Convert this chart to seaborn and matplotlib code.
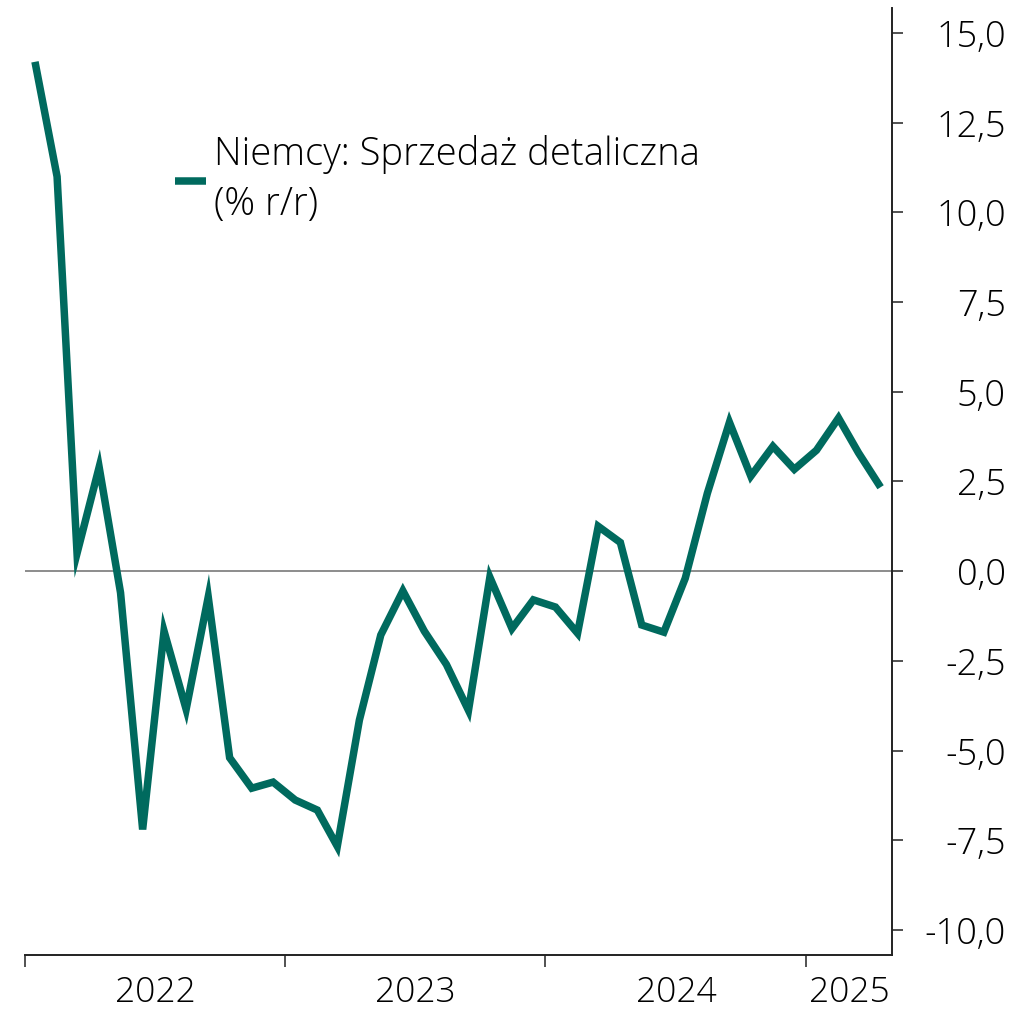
import pandas as pd
import matplotlib
matplotlib.use("Agg")
import matplotlib.pyplot as plt
import matplotlib.dates as mdates
from matplotlib.ticker import FuncFormatter, FixedLocator
import seaborn as sns

# monthly values, Jan 2022 - Apr 2025
months = pd.date_range("2022-01-01", periods=40, freq="MS") + pd.Timedelta(days=14)
retail_yoy = [14.2, 11.0, 0.5, 2.9, -0.6, -7.2, -1.67, -3.85, -0.72, -5.2,
              -6.05, -5.88, -6.38, -6.66, -7.67, -4.15, -1.78, -0.55, -1.67, -2.6,
              -3.88, -0.17, -1.6, -0.8, -1.0, -1.73, 1.25, 0.8, -1.5, -1.7,
              -0.2, 2.17, 4.15, 2.65, 3.48, 2.84, 3.37, 4.27, 3.3, 2.34]
year_labels = ["2022", "2023", "2024", "2025"]
series_name = "Niemcy: Sprzedaż detaliczna\n(% r/r)"

df = pd.DataFrame({"date": months, "value": retail_yoy})

sns.set_style("white")
plt.rcParams["font.family"] = ["Open Sans", "DejaVu Sans"]
plt.rcParams["font.weight"] = "light"

green = "#006A5E"
txt = "#000000"
fig = plt.figure(figsize=(10.28, 10.09), dpi=100)
ax = fig.add_axes([25 / 1028, 1 - 955 / 1009, 867 / 1028, 947 / 1009])

ax.axhline(0, color="#8c8c8c", lw=1.4, zorder=1)
sns.lineplot(data=df, x="date", y="value", ax=ax, color=green, lw=5.4,
             label=series_name, zorder=3)
for ln in ax.lines:
    ln.set_solid_joinstyle("miter")
    ln.set_solid_capstyle("butt")

start = pd.Timestamp("2022-01-01")
end = pd.Timestamp("2025-05-01")
ax.set_xlim(start, end)
ax.set_ylim(-10.7, 15.7)

# x axis: year boundaries as ticks, labels centred in between
bounds = [pd.Timestamp(f"{y}-01-01") for y in year_labels]
ax.xaxis.set_major_locator(FixedLocator(mdates.date2num(bounds)))
ax.xaxis.set_major_formatter(FuncFormatter(lambda v, p: ""))
mids = mdates.date2num(bounds[1:] + [end])
mids = (mdates.date2num(bounds) + mids) / 2
ax.xaxis.set_minor_locator(FixedLocator(mids))
ax.xaxis.set_minor_formatter(FuncFormatter(lambda v, p: year_labels[p]))
ax.tick_params(axis="x", which="major", direction="out", length=8.5, width=1.1,
               color="#222222", bottom=True)
ax.tick_params(axis="x", which="minor", length=0, pad=15, labelsize=25.5,
               labelcolor=txt)

# y axis on the right
ax.yaxis.tick_right()
ax.set_yticks([-10, -7.5, -5, -2.5, 0, 2.5, 5, 7.5, 10, 12.5, 15])
ax.yaxis.set_major_formatter(FuncFormatter(lambda v, p: f"{v:.1f}".replace(".", ",")))
ax.tick_params(axis="y", direction="out", length=8, width=1.1, color="#222222",
               pad=74, labelsize=26, labelcolor=txt, right=True, left=False)
for lab in ax.get_yticklabels():
    lab.set_horizontalalignment("right")

ax.set_xlabel("")
ax.set_ylabel("")
for side in ["left", "top"]:
    ax.spines[side].set_visible(False)
for side in ["right", "bottom"]:
    ax.spines[side].set_color("#222222")
    ax.spines[side].set_linewidth(1.4)

leg = ax.legend(loc="upper left", bbox_to_anchor=(175 / 1028, 1 - 135 / 1009),
                bbox_transform=fig.transFigure, frameon=False, fontsize=27.5,
                handlelength=0.82, handletextpad=0.2, borderpad=0, borderaxespad=0,
                labelspacing=0)
for t in leg.get_texts():
    t.set_color(txt)
    t.set_linespacing(1.4)

fig.savefig("out.png", dpi=100)
